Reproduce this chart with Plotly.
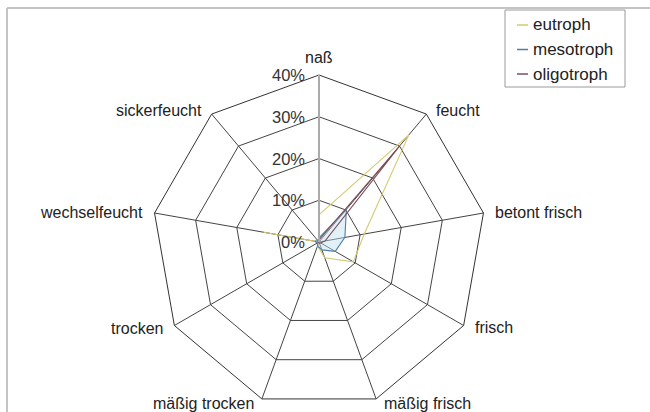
import math
import plotly.graph_objects as go

# Feuchtestufen (Achsen des Netzdiagramms)
categories = ["naß", "feucht", "betont frisch", "frisch", "mäßig frisch",
              "mäßig trocken", "trocken", "wechselfeucht", "sickerfeucht"]

# Anteile je Trophiestufe in %
eutroph = [6.5, 33.5, 11.0, 9.5, 4.0, 1.0, 0.0, 13.5, 0.0]
mesotroph = [1.0, 10.2, 6.3, 4.5, 2.0, 1.0, 0.5, 1.0, 0.5]
oligotroph = [0.5, 30.0, 1.5, 0.5, 0.3, 0.2, 0.2, 0.3, 0.2]

series_names = ["eutroph", "mesotroph", "oligotroph"]
series_values = [eutroph, mesotroph, oligotroph]
series_colors = ["#d6c870", "#4f7fa6", "#7e4e58"]

radial_ticks = [0, 10, 20, 30, 40]
r_max = 40

W, H = 650, 412
cx, cy, R = 319, 242, 167  # Mittelpunkt und Radius des Netzes in Pixeln

font = "Liberation Sans, Arial, sans-serif"

fig = go.Figure()
for name, vals, col in zip(series_names, series_values, series_colors):
    filled = name == "mesotroph"
    fig.add_trace(go.Scatterpolar(
        r=vals + vals[:1], theta=categories + categories[:1],
        mode="lines", name=name, line=dict(color=col, width=1.1),
        fill="toself" if filled else None,
        fillcolor="rgba(190,225,238,0.45)" if filled else None,
        showlegend=False,
    ))

fig.update_layout(
    width=W, height=H,
    margin=dict(l=0, r=0, t=0, b=0),
    paper_bgcolor="white",
    font=dict(family=font, size=16, color="#222"),
    polar=dict(
        domain=dict(x=[(cx - R) / W, (cx + R) / W],
                    y=[(H - cy - R) / H, (H - cy + R) / H]),
        bgcolor="rgba(0,0,0,0)",
        gridshape="linear",
        angularaxis=dict(
            rotation=90, direction="clockwise",
            categoryorder="array", categoryarray=categories,
            showline=True, linecolor="#333", linewidth=1,
            gridcolor="#444", gridwidth=0.8,
            ticks="", showticklabels=False,
        ),
        radialaxis=dict(
            range=[0, r_max], tickvals=radial_ticks,
            angle=90, showline=True, linecolor="#aaa", linewidth=2,
            gridcolor="#444", gridwidth=0.8,
            ticks="", showticklabels=False,
        ),
    ),
)


def px(x, y):
    return x / W, 1 - y / H


# Beschriftung der Achsen neben den Eckpunkten des Netzes
n = len(categories)
for i, cat in enumerate(categories):
    a = math.radians(360 * i / n)
    s, c = math.sin(a), math.cos(a)
    vx, vy = cx + R * s, cy - R * c
    if abs(s) < 0.1:
        x, y, anchor = vx, vy - 18, "center"
    else:
        off = 4 + 6 * abs(s)
        x = vx + off if s > 0 else vx - off
        y = vy - 5 * c
        anchor = "left" if s > 0 else "right"
    ax, ay = px(x, y)
    fig.add_annotation(xref="paper", yref="paper", x=ax, y=ay, text=cat,
                       showarrow=False, xanchor=anchor, yanchor="middle",
                       font=dict(size=16, family=font, color="#222"))

# Prozentskala links der Achse "naß"
for v in radial_ticks:
    ax, ay = px(cx - 12, cy - R * v / r_max)
    fig.add_annotation(xref="paper", yref="paper", x=ax, y=ay, text=f"{v}%",
                       showarrow=False, xanchor="right", yanchor="middle",
                       font=dict(size=16.5, family=font, color="#333"))

# Rahmen des Diagrammbereichs
fig.add_shape(type="line", xref="paper", yref="paper",
              x0=7 / W, x1=1, y0=1 - 8 / H, y1=1 - 8 / H,
              line=dict(color="#c4c4c4", width=2))
fig.add_shape(type="line", xref="paper", yref="paper",
              x0=7 / W, x1=7 / W, y0=0, y1=1 - 8 / H,
              line=dict(color="#c4c4c4", width=2))

# Legende
lx0, lx1, ly0, ly1 = 505, 625, 10, 87
fig.add_shape(type="rect", xref="paper", yref="paper",
              x0=lx0 / W, x1=lx1 / W, y0=1 - ly1 / H, y1=1 - ly0 / H,
              line=dict(color="#9a9a9a", width=1), fillcolor="white")
for i, (name, col) in enumerate(zip(series_names, series_colors)):
    y = 25 + i * 24.5
    fig.add_shape(type="line", xref="paper", yref="paper",
                  x0=517 / W, x1=528 / W, y0=1 - y / H, y1=1 - y / H,
                  line=dict(color=col, width=1.5))
    fig.add_annotation(xref="paper", yref="paper", x=531 / W, y=1 - y / H,
                       text=name, showarrow=False, xanchor="left",
                       yanchor="middle",
                       font=dict(size=17, family=font, color="#222"))

fig.write_html("out.html")
